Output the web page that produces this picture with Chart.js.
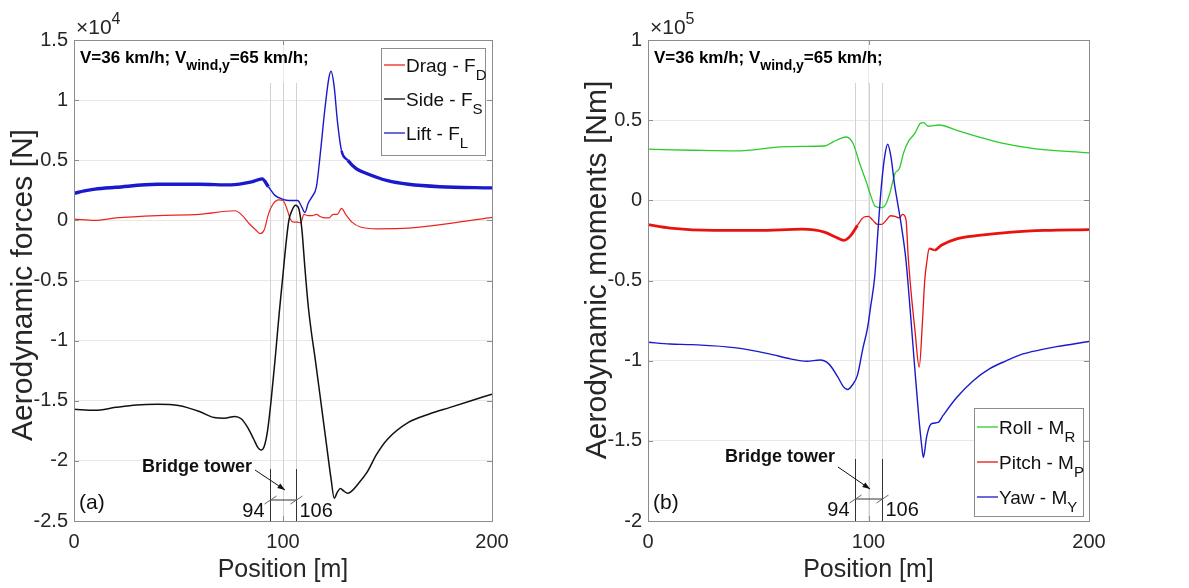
<!DOCTYPE html>
<html>
<head>
<meta charset="utf-8">
<script src="https://cdn.jsdelivr.net/npm/chart.js@4.4.1/dist/chart.umd.min.js"></script>
<style>
  body { margin: 0; background: #fff; }
  #wrap { position: relative; width: 1189px; height: 588px; }
  canvas { position: absolute; top: 0; }
</style>
</head>
<body>
<div id="wrap">
  <canvas id="forces" width="560" height="588" style="left:0"></canvas>
  <canvas id="moments" width="629" height="588" style="left:560px"></canvas>
</div>
<script>
// ---- data (position in m) ----
// (a) forces in N
var dragPos = [0, 10, 20, 40, 60, 77, 80, 84, 87, 89, 91, 93, 95, 98, 100, 102, 103.5, 105, 107, 108.5, 110, 112, 114, 116, 118, 120, 122, 124, 126, 128, 130, 133, 137, 145, 160, 180, 200];
var dragVal = [100, 0, 200, 400, 500, 800, 500, -300, -800, -1100, -800, 500, 1300, 1700, 1650, 900, 100, -150, -150, -200, 500, 400, 400, 500, 300, 200, 200, 500, 500, 1000, 500, -150, -550, -700, -650, -250, 250];

var sidePos = [0, 10, 20, 30, 40, 50, 60, 67, 72, 77, 80, 83, 86, 88, 89.5, 91, 92.6, 94.3, 96.3, 98.3, 100, 101.4, 102.8, 104.5, 106, 107.5, 109, 110.5, 112, 113.5, 115.3, 118.5, 121, 123, 124.5, 126, 127.5, 129, 131, 133, 136, 140, 145, 150, 160, 170, 180, 190, 200];
var sideVal = [-15700, -15800, -15550, -15350, -15300, -15400, -15900, -16400, -16450, -16300, -16500, -17200, -18200, -18900, -19100, -18800, -17500, -15000, -11400, -7500, -4500, -2000, 0, 900, 1250, 1000, -700, -4000, -7000, -9200, -11400, -15600, -18900, -21500, -23100, -22600, -22300, -22500, -22700, -22500, -21900, -21000, -19400, -18200, -16800, -16100, -15550, -15000, -14450];

var liftPos = [0, 5, 10, 20, 40, 60, 75, 85, 90, 93, 96, 100, 103, 107, 109, 110.5, 112, 114, 116, 118, 120, 122, 123, 124.5, 126, 128, 131, 135, 140, 150, 160, 175, 200];
var liftVal = [2250, 2450, 2600, 2750, 3000, 3000, 2950, 3200, 3450, 2800, 2100, 1750, 1650, 1650, 1100, 650, 1400, 2000, 2800, 5800, 9200, 11900, 12400, 11100, 8300, 5800, 5000, 4300, 3900, 3300, 3000, 2800, 2700];

// (b) moments in Nm
var rollPos = [0, 20, 40, 60, 70, 80, 84, 88, 90, 93, 96, 99, 101, 103, 106, 108, 110, 112, 114, 116, 118, 121, 123.5, 125, 127, 132, 140, 150, 160, 175, 200];
var rollVal = [31900, 31250, 30800, 33300, 33700, 33900, 36500, 39000, 39500, 35400, 23000, 11500, 3000, -3700, -4600, -2000, 6000, 16700, 19800, 30000, 36500, 41700, 48000, 48500, 46200, 47000, 43700, 39600, 35800, 32300, 29600];

var pitchPos = [0, 10, 30, 50, 70, 80, 85, 89, 92, 95, 98, 100, 102, 104, 106, 108, 110, 112, 114, 115.5, 117, 118, 119.5, 121, 123, 124.5, 125.5, 126.5, 127.5, 130, 133, 140, 150, 165, 180, 200];
var pitchVal = [-15200, -17300, -18750, -18750, -18000, -19800, -22900, -25000, -21900, -15600, -10400, -10000, -12500, -15000, -15000, -12500, -9600, -10000, -11000, -8750, -12000, -35000, -60000, -80000, -104000, -75000, -50000, -38000, -30000, -31000, -28000, -24000, -21900, -19800, -18750, -18300];

var yawPos = [0, 10, 20, 40, 55, 65, 72, 78, 82, 86, 88.5, 90.5, 92.5, 95, 97.5, 99.5, 101, 102.8, 104.4, 105.8, 107.3, 108.7, 110.2, 111.8, 113, 115, 117, 119, 121, 122.8, 124.2, 124.9, 126.3, 127.8, 129.3, 131.6, 133.9, 140, 147.5, 155, 162.6, 170, 177.8, 185.3, 193, 200];
var yawVal = [-88500, -89600, -90000, -92000, -95800, -99000, -100400, -99600, -102000, -110000, -116000, -118000, -115500, -109000, -92000, -80000, -66000, -48000, -17000, 8300, 27000, 35000, 27000, 10000, 0, -16700, -37500, -70000, -105000, -135000, -154000, -160400, -148000, -140600, -139000, -138500, -134000, -123000, -112500, -105000, -100000, -95800, -93300, -91250, -89600, -88000];

var xTicks = [0, 100, 200];
var towerMarks = [94, 100, 106];

var FONT = '"Liberation Sans", Arial, Helvetica, sans-serif';
var TXT = '#262626';

function pts(pos, val) {
    return pos.map(function(x, i) { return { x: x, y: val[i] }; });
}

function drawSub(ctx, x, y, parts) {
    // parts: [text, size, dy, bold]
    parts.forEach(function(p) {
        ctx.font = (p[3] ? 'bold ' : '') + p[1] + 'px ' + FONT;
        ctx.fillText(p[0], x, y + p[2]);
        x += ctx.measureText(p[0]).width;
    });
}

var deco = {
    id: 'deco',
    beforeDatasetsDraw: function(chart) {
        var ctx = chart.ctx, a = chart.chartArea, xs = chart.scales.x;
        ctx.save();
        ctx.strokeStyle = '#d2d2d2';
        ctx.lineWidth = 1;
        towerMarks.forEach(function(v) {
            var px = Math.round(xs.getPixelForValue(v)) + 0.5;
            ctx.beginPath();
            ctx.moveTo(px, 83);
            ctx.lineTo(px, a.bottom);
            ctx.stroke();
        });
        ctx.restore();
    },
    afterDraw: function(chart) {
        var o = chart.options.plugins.deco;
        var ctx = chart.ctx, a = chart.chartArea, xs = chart.scales.x, ys = chart.scales.y;
        ctx.save();

        // axes box + inner ticks
        ctx.strokeStyle = '#8c8c8c';
        ctx.lineWidth = 1;
        ctx.strokeRect(Math.round(a.left) + 0.5, Math.round(a.top) + 0.5, Math.round(a.width), Math.round(a.height));
        ctx.beginPath();
        ys.ticks.forEach(function(t) {
            var py = Math.round(ys.getPixelForValue(t.value)) + 0.5;
            ctx.moveTo(a.left, py); ctx.lineTo(a.left + 5, py);
            ctx.moveTo(a.right, py); ctx.lineTo(a.right - 5, py);
        });
        xTicks.forEach(function(v) {
            var px = Math.round(xs.getPixelForValue(v)) + 0.5;
            ctx.moveTo(px, a.bottom); ctx.lineTo(px, a.bottom - 5);
            ctx.moveTo(px, a.top); ctx.lineTo(px, a.top + 5);
        });
        ctx.stroke();

        // bridge tower dimension
        var x94 = Math.round(xs.getPixelForValue(94)) + 0.5;
        var x106 = Math.round(xs.getPixelForValue(106)) + 0.5;
        ctx.strokeStyle = '#333';
        ctx.beginPath();
        ctx.moveTo(x94, o.towerTop); ctx.lineTo(x94, a.bottom);
        ctx.moveTo(x106, o.towerTop); ctx.lineTo(x106, a.bottom);
        ctx.moveTo(x94, o.dimY); ctx.lineTo(x106, o.dimY);
        ctx.stroke();
        ctx.strokeStyle = '#666';
        ctx.beginPath();
        [x94, x106].forEach(function(px) {
            ctx.moveTo(px - 6, o.dimY + 4); ctx.lineTo(px + 6, o.dimY - 4);
        });
        ctx.stroke();

        ctx.fillStyle = '#111';
        ctx.font = '20px ' + FONT;
        ctx.textBaseline = 'alphabetic';
        ctx.textAlign = 'right';
        ctx.fillText('94', x94 - 6, o.dimY + 17);
        ctx.textAlign = 'left';
        ctx.fillText('106', x106 + 3, o.dimY + 17);

        ctx.font = 'bold 18px ' + FONT;
        ctx.textBaseline = 'middle';
        ctx.fillText('Bridge tower', o.btX, o.btY);

        // arrow
        var ar = o.arrow;
        ctx.strokeStyle = '#111';
        ctx.beginPath();
        ctx.moveTo(ar[0], ar[1]); ctx.lineTo(ar[2], ar[3]);
        ctx.stroke();
        var ang = Math.atan2(ar[3] - ar[1], ar[2] - ar[0]);
        ctx.beginPath();
        ctx.moveTo(ar[2], ar[3]);
        ctx.lineTo(ar[2] - 8 * Math.cos(ang - 0.35), ar[3] - 8 * Math.sin(ang - 0.35));
        ctx.lineTo(ar[2] - 8 * Math.cos(ang + 0.35), ar[3] - 8 * Math.sin(ang + 0.35));
        ctx.closePath();
        ctx.fill();

        // panel tag
        ctx.font = '21px ' + FONT;
        ctx.fillText(o.tag, a.left + 5, 503);

        // speed note
        ctx.textBaseline = 'alphabetic';
        ctx.fillStyle = '#000';
        drawSub(ctx, a.left + 6, 63, [
            ['V=36 km/h; V', 17, 0, true],
            ['wind,y', 14, 7, true],
            ['=65 km/h;', 17, 0, true]
        ]);

        // exponent
        ctx.fillStyle = TXT;
        drawSub(ctx, a.left + 2, 34, [
            ['\u00d710', 21, 0, false],
            [o.exp, 16, -10, false]
        ]);

        // legend
        var L = o.legend;
        ctx.fillStyle = '#fff';
        ctx.fillRect(L.x, L.y, L.w, L.h);
        ctx.strokeStyle = '#8c8c8c';
        ctx.strokeRect(L.x + 0.5, L.y + 0.5, L.w, L.h);
        L.items.forEach(function(it, i) {
            var cy = L.rows[i];
            ctx.strokeStyle = it.color;
            ctx.lineWidth = 1.3;
            ctx.beginPath();
            ctx.moveTo(L.x + 3, cy); ctx.lineTo(L.x + 24, cy);
            ctx.stroke();
            ctx.fillStyle = '#111';
            drawSub(ctx, L.x + 25, cy + 7, [
                [it.name, 19, 0, false],
                [it.sub, 15, 8, false]
            ]);
        });

        // axis titles
        ctx.fillStyle = TXT;
        ctx.textAlign = 'center';
        ctx.textBaseline = 'middle';
        ctx.font = '25px ' + FONT;
        ctx.fillText('Position [m]', (a.left + a.right) / 2, 570);
        ctx.translate(o.yTitleX, o.yTitleY);
        ctx.rotate(-Math.PI / 2);
        ctx.textBaseline = 'alphabetic';
        ctx.font = '30px ' + FONT;
        ctx.fillText(o.yTitle, 0, 0);
        ctx.restore();
    }
};

// noisy stretches are drawn thicker, the clean middle part thin
function thick(lo, hi, wide, thin) {
    return function(c) {
        var x = c.p0.parsed.x;
        if (x < lo - 2 || x > hi + 2) return wide;
        if (x < lo || x > hi) return (wide + thin) / 2;
        return thin;
    };
}

function makeChart(id, sets, y, deco_, yWidth, rightPad, div) {
    var tickFont = { family: FONT, size: 20 };
    return new Chart(document.getElementById(id), {
        type: 'line',
        data: { datasets: sets },
        plugins: [deco],
        options: {
            responsive: false,
            animation: false,
            layout: { padding: { top: 40, right: rightPad, left: 0, bottom: 0 } },
            elements: { point: { radius: 0 }, line: { cubicInterpolationMode: 'monotone', borderJoinStyle: 'round' } },
            plugins: { legend: { display: false }, tooltip: { enabled: false }, deco: deco_ },
            scales: {
                x: {
                    type: 'linear', min: 0, max: 200,
                    afterBuildTicks: function(s) { s.ticks = xTicks.map(function(v) { return { value: v }; }); },
                    ticks: { font: tickFont, color: TXT, padding: 9, maxRotation: 0 },
                    grid: { color: '#e8e8e8', drawTicks: false },
                    border: { display: false },
                    afterFit: function(s) { s.height = 67; }
                },
                y: {
                    min: y[0], max: y[1],
                    ticks: {
                        stepSize: y[2], font: tickFont, color: TXT, padding: 6,
                        callback: function(v) { return +(v / div).toFixed(1); }
                    },
                    grid: { color: '#e8e8e8', drawTicks: false },
                    border: { display: false },
                    afterFit: function(s) { s.width = yWidth; }
                }
            }
        }
    });
}

makeChart('forces', [
    { data: pts(liftPos, liftVal), borderColor: '#1a1acc', order: 0,
      segment: { borderWidth: thick(93, 127, 3.4, 1.4) } },
    { data: pts(sidePos, sideVal), borderColor: '#111', borderWidth: 1.5, order: 1 },
    { data: pts(dragPos, dragVal), borderColor: '#e8261f', borderWidth: 1.2, order: 2 }
], [-25000, 15000, 5000], {
    tag: '(a)', exp: '4', towerTop: 469, dimY: 500, btX: 142, btY: 467,
    arrow: [255, 470, 285, 490],
    yTitle: 'Aerodynamic forces [N]', yTitleX: 32, yTitleY: 285,
    legend: { x: 381, y: 48, w: 104, h: 107, rows: [65, 99, 133], items: [
        { color: '#e8261f', name: 'Drag - F', sub: 'D' },
        { color: '#111', name: 'Side - F', sub: 'S' },
        { color: '#1a1acc', name: 'Lift - F', sub: 'L' }
    ] }
}, 74, 68, 1e4);

makeChart('moments', [
    { data: pts(yawPos, yawVal), borderColor: '#1a1acc', borderWidth: 1.4, order: 0 },
    { data: pts(pitchPos, pitchVal), borderColor: '#e8130f', order: 1,
      segment: { borderWidth: thick(95, 127, 2.8, 1.3) } },
    { data: pts(rollPos, rollVal), borderColor: '#2ccc2c', borderWidth: 1.3, order: 2 }
], [-200000, 100000, 50000], {
    tag: '(b)', exp: '5', towerTop: 459, dimY: 499, btX: 165, btY: 457,
    arrow: [278, 467, 310, 489],
    yTitle: 'Aerodynamic moments [Nm]', yTitleX: 46, yTitleY: 270,
    legend: { x: 414, y: 408, w: 109, h: 108, rows: [427, 462, 497], items: [
        { color: '#2ccc2c', name: 'Roll - M', sub: 'R' },
        { color: '#e8130f', name: 'Pitch - M', sub: 'P' },
        { color: '#1a1acc', name: 'Yaw - M', sub: 'Y' }
    ] }
}, 88, 100, 1e5);
</script>
</body>
</html>
